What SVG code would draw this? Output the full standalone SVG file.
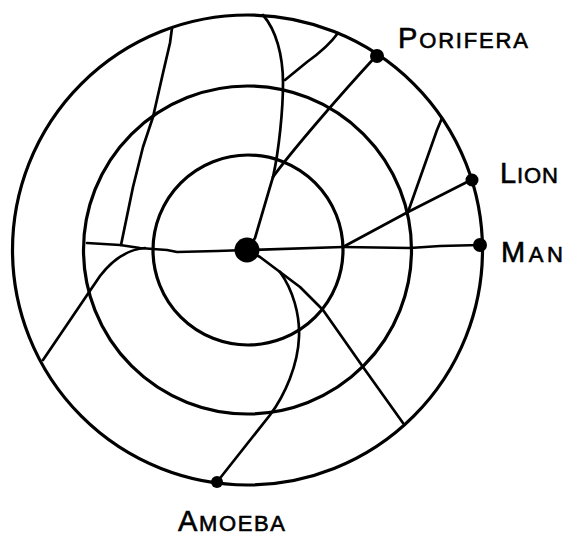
<svg xmlns="http://www.w3.org/2000/svg" width="564" height="539" viewBox="0 0 564 539">
<style>
.ring{fill:none;stroke:#000;stroke-width:3.2}
.edge{fill:none;stroke:#000;stroke-width:2.7;stroke-linecap:round;stroke-linejoin:round}
.dot{fill:#000}
.lbl{font-family:"Liberation Sans",Arial,sans-serif;font-size:22px;fill:#000;stroke:#000;stroke-width:0.6}
.cap{font-size:29px}
</style>
<rect width="564" height="539" fill="#fff"/>
<g id="rings">
<circle class="ring" cx="248" cy="250" r="95"/>
<circle class="ring" cx="247.5" cy="250" r="164"/>
<circle class="ring" cx="247.5" cy="250" r="235"/>
</g>
<g id="connectors">
<path class="edge" d="M247,250 L255,238 L270,187 L273,177"/>
<path class="edge" d="M273,177 C279,150 283,110 283,83 C283,55 276,30 263,15"/>
<path class="edge" d="M273,177 C290,153 340,95 377,55"/>
<path class="edge" d="M285,80 L307,62 Q328,47 338,33"/>
<path class="edge" d="M247,250 L343,247"/>
<path class="edge" d="M343,247 L410,248 Q425,247 440,246 L480,245"/>
<path class="edge" d="M343,247 L408,212 L471,180"/>
<path class="edge" d="M408,212 L437,130 L442,118"/>
<path class="edge" d="M247,250 L217,251 L177,252 L167,250 L153,249 L140,248 L120,245 L87,243"/>
<path class="edge" d="M121,245 L133,187 L143,147 L153,117 L163,73 L170,43 L172,28"/>
<path class="edge" d="M145,248 Q120,250 100,276 L43,360"/>
<path class="edge" d="M247,250 L260,257 L280,272"/>
<path class="edge" d="M280,272 L300,287 L323,310 L363,367 L403,423"/>
<path class="edge" d="M280,272 C293,290 300,315 299,337 C298,365 285,395 270,415 L217,482"/>
</g>
<g id="center"><circle class="dot" cx="247" cy="250" r="12.5"/></g>
<g id="porifera">
<circle class="dot" cx="377" cy="56" r="7"/>
<text class="lbl" x="398" y="48" textLength="130" lengthAdjust="spacing"><tspan class="cap">P</tspan>ORIFERA</text>
</g>
<g id="lion">
<circle class="dot" cx="472" cy="180" r="6.5"/>
<text class="lbl" x="500" y="183" textLength="58" lengthAdjust="spacing"><tspan class="cap">L</tspan>ION</text>
</g>
<g id="man">
<circle class="dot" cx="480" cy="245" r="7"/>
<text class="lbl" x="501" y="262" textLength="62" lengthAdjust="spacing"><tspan class="cap">M</tspan>AN</text>
</g>
<g id="amoeba">
<circle class="dot" cx="217" cy="482" r="6"/>
<text class="lbl" x="178" y="531" textLength="107" lengthAdjust="spacing"><tspan class="cap">A</tspan>MOEBA</text>
</g>
</svg>
